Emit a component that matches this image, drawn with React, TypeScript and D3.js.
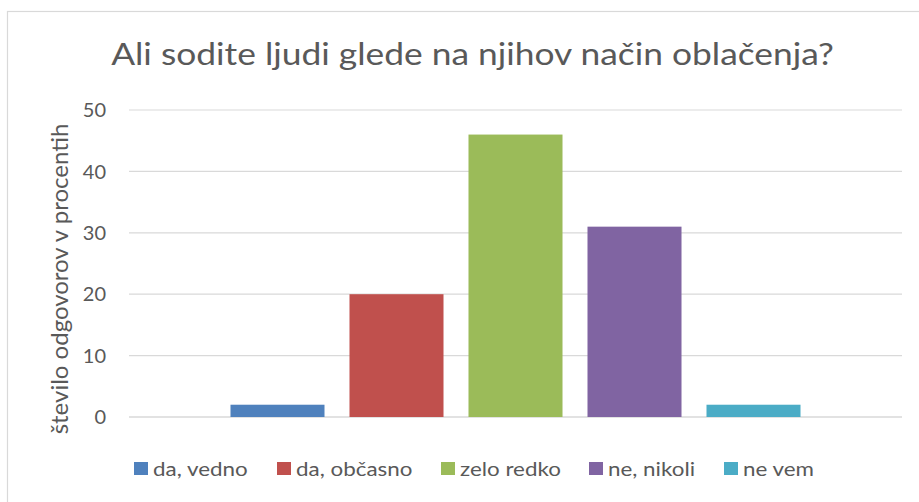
import React from "react";
import * as d3 from "d3";

const title = "Ali sodite ljudi glede na njihov način oblačenja?";
const yAxisTitle = "število odgovorov v procentih";
const seriesNames = ["da, vedno", "da, občasno", "zelo redko", "ne, nikoli", "ne vem"];
const seriesValues = [2, 20, 46, 31, 2];
const seriesColors = ["#4f81bd", "#c0504d", "#9bbb59", "#8064a2", "#4bacc6"];
const yTicks = [0, 10, 20, 30, 40, 50];

const W = 919;
const H = 502;
const FONT = "Lato, 'Open Sans', sans-serif";
const TEXT = "#595959";
const SX = 1.16;
const SX_LEGEND = 1.12;

export default function App() {
  const plotLeft = 129;
  const plotRight = 902;
  const plotTop = 110;
  const plotBottom = 417;

  const y = d3.scaleLinear().domain([0, 50]).range([plotBottom, plotTop]);
  const x = d3
    .scaleBand<string>()
    .domain(seriesNames)
    .range([205.5, 825.5])
    .paddingInner(0.21)
    .paddingOuter(0.21);

  const legendX = [134, 277, 441, 589, 724];

  return (
    <svg
      width={W}
      height={H}
      style={{ position: "absolute", left: 0, top: 0, background: "#fff" }}
    >
      <rect x={0} y={0} width={W} height={H} fill="#fff" />
      <rect x={7.5} y={11.5} width={W + 10} height={H + 10} fill="#fff" stroke="#d9d9d9" strokeWidth={1.2} />
      <text
        transform={`translate(472.5, 65) scale(${SX}, 1)`}
        textAnchor="middle"
        fontFamily={FONT}
        fontSize={30.5}
        fill={TEXT}
      >
        {title}
      </text>
      {yTicks.map((t) => (
        <g key={t}>
          <line
            x1={plotLeft}
            x2={plotRight}
            y1={y(t)}
            y2={y(t)}
            stroke="#d9d9d9"
            strokeWidth={t === 0 ? 1.5 : 1.2}
          />
          <text
            x={106}
            y={y(t)}
            dy="0.36em"
            textAnchor="end"
            fontFamily={FONT}
            fontSize={20}
            fill={TEXT}
          >
            {t}
          </text>
        </g>
      ))}
      <text
        transform={`translate(68, 279) rotate(-90)`}
        textAnchor="middle"
        fontFamily={FONT}
        fontSize={24}
        fill={TEXT}
      >
        {yAxisTitle}
      </text>
      {seriesNames.map((s, i) => (
        <rect
          key={s}
          x={x(s)}
          y={y(seriesValues[i])}
          width={x.bandwidth()}
          height={plotBottom - y(seriesValues[i])}
          fill={seriesColors[i]}
        />
      ))}
      {seriesNames.map((s, i) => (
        <g key={s} transform={`translate(${legendX[i]}, 0)`}>
          <rect x={0} y={462} width={14} height={13} fill={seriesColors[i]} />
          <text
            transform={`translate(19, 475.5) scale(${SX_LEGEND}, 1)`}
            fontFamily={FONT}
            fontSize={20}
            fill={TEXT}
          >
            {s}
          </text>
        </g>
      ))}
    </svg>
  );
}
